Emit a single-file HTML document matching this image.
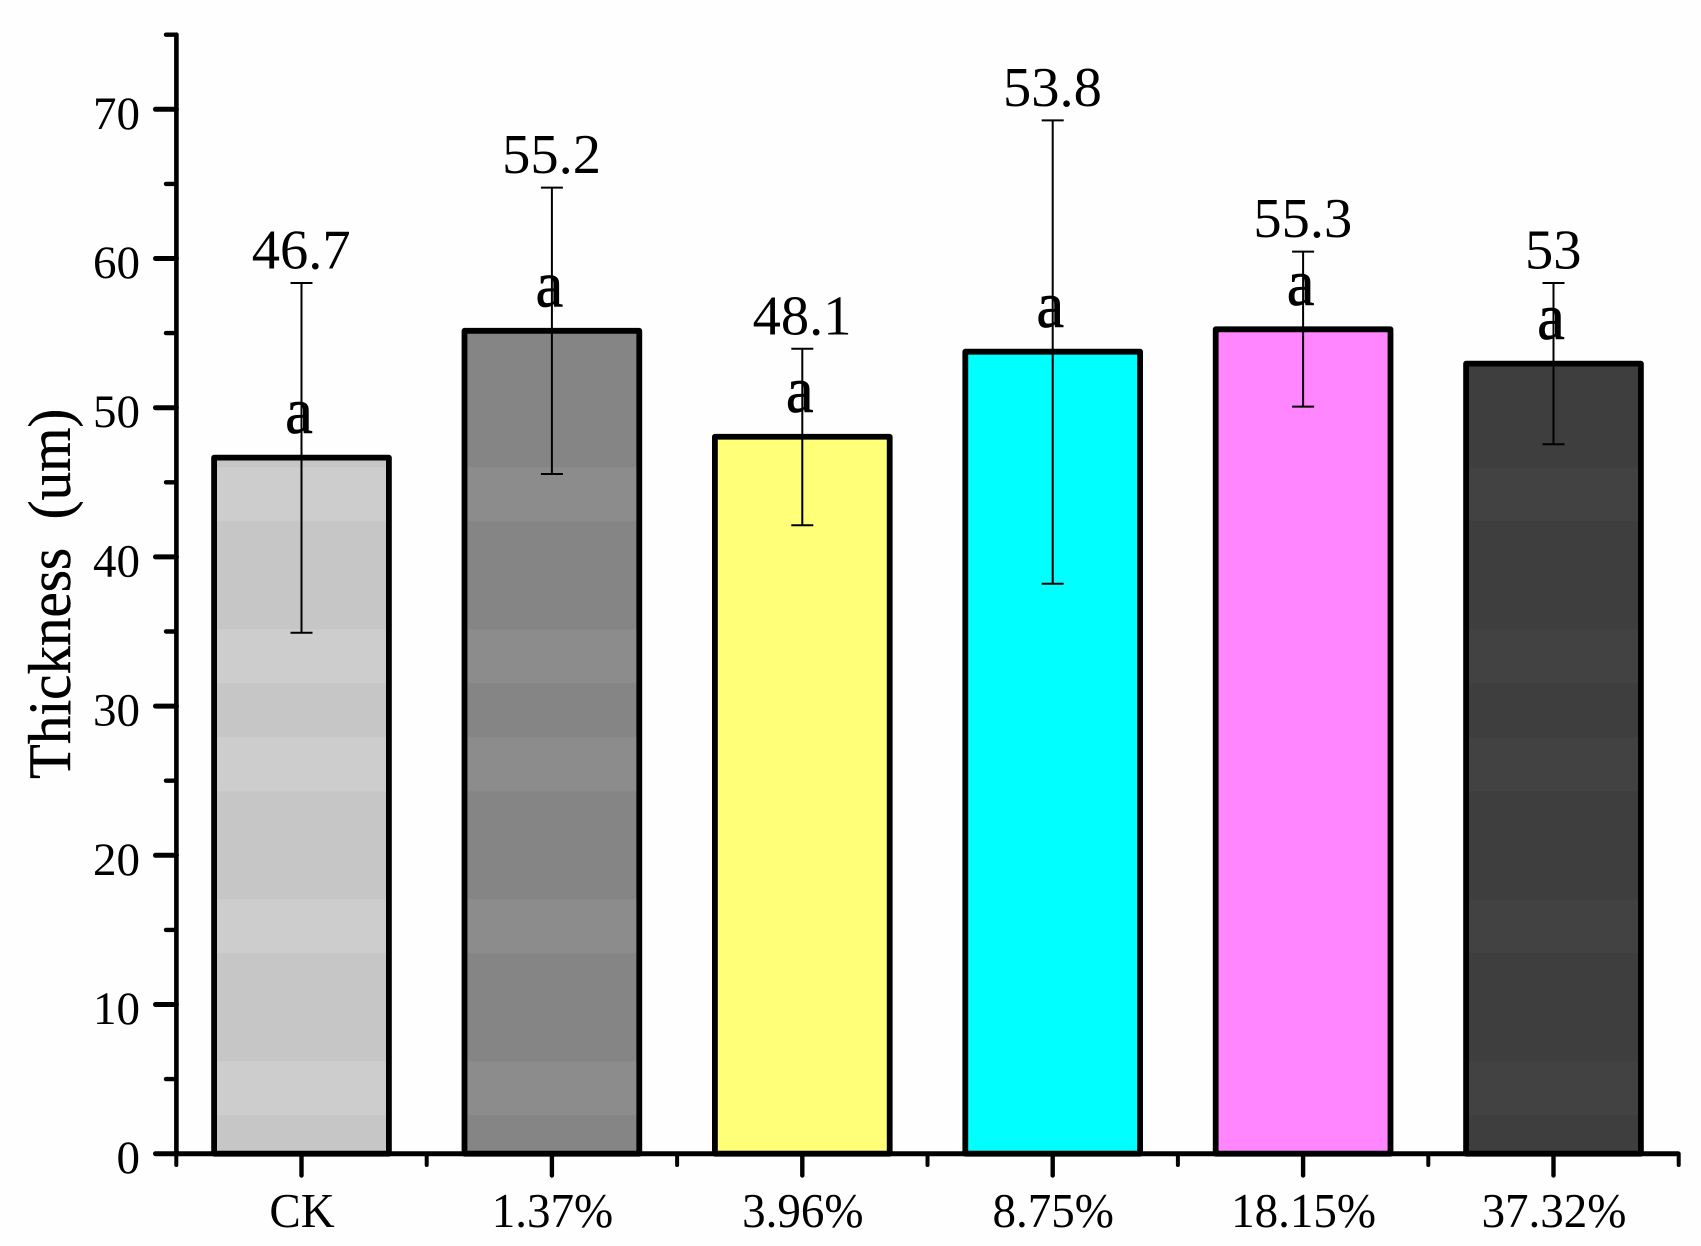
<!DOCTYPE html>
<html lang="en">
<head>
<meta charset="utf-8">
<title>Thickness bar chart</title>
<style>
html,body{margin:0;padding:0;background:#fff;}
svg{display:block;}
text{font-family:"Liberation Serif","Times New Roman",serif;fill:#000;}
</style>
</head>
<body>
<svg id="chart" xmlns="http://www.w3.org/2000/svg" width="1701" height="1246" viewBox="0 0 1701 1246">
  <rect x="0" y="0" width="1701" height="1246" fill="#fefefe"/>
  <g id="bars"></g>
  <g id="axes"></g>
  <g id="errors"></g>
  <g id="labels"></g>
  <text transform="translate(70,779) rotate(-90) scale(1,1.05)" font-size="57" stroke="#000" stroke-width="0.4" xml:space="preserve" style="white-space:pre">Thickness  (um)</text>
</svg>
<script>
const categories = ["CK", "1.37%", "3.96%", "8.75%", "18.15%", "37.32%"];
const means = [46.7, 55.2, 48.1, 53.8, 55.3, 53];
const errorTop = [58.36, 64.75, 53.95, 69.26, 60.46, 58.36];
const errorBottom = [34.92, 45.56, 42.12, 38.2, 50.07, 47.55];
const significance = ["a", "a", "a", "a", "a", "a"];
const yMajorTicks = [0, 10, 20, 30, 40, 50, 60, 70];
const yMinorTicks = [5, 15, 25, 35, 45, 55, 65, 75];

const lightFills = ["#cdcdcd", "#8c8c8c", "#ffff78", "#00ffff", "#ff86ff", "#424242"];
const darkFills = ["#c6c6c6", "#858585", "#ffff78", "#00ffff", "#ff86ff", "#3e3e3e"];
const bandPattern = "LDDLDLDDLDDLD";

const NS = "http://www.w3.org/2000/svg";
const originX = 176.4, axisEndX = 1678, originY = 1153.7, unitY = 14.92;
const firstX = 301.5, stepX = 250.4, barW = 174.8;
const bandStart = 467.3, bandStep = 54;

function x(i) { return firstX + stepX * i; }
function y(v) { return originY - v * unitY; }

function make(tag, parent, attrs, txt) {
  const el = document.createElementNS(NS, tag);
  for (const k in attrs) el.setAttribute(k, attrs[k]);
  if (txt !== undefined) el.textContent = txt;
  parent.appendChild(el);
  return el;
}

const barsG = document.getElementById("bars");
const axesG = document.getElementById("axes");
const errorsG = document.getElementById("errors");
const labelsG = document.getElementById("labels");

categories.forEach(function (cat, i) {
  const top = y(means[i]) + 0.7;
  const left = x(i) - barW / 2;
  const base = make("rect", barsG, { x: left, y: top, width: barW, height: originY - top, fill: darkFills[i] });
  
  
  for (let b = 0; b < bandPattern.length; b++) {
    if (bandPattern[b] !== "L") continue;
    const y0 = Math.max(bandStart + b * bandStep, top);
    const y1 = Math.min(bandStart + (b + 1) * bandStep, originY);
    if (y1 <= y0) continue;
    const band = make("rect", barsG, { x: left, y: y0, width: barW, height: y1 - y0, fill: lightFills[i] });
    
    
  }
  const outline = make("rect", barsG, { x: left, y: top, width: barW, height: originY - top, fill: "none", stroke: "#000", "stroke-width": 5.8, "stroke-linejoin": "round" });
  
  

  const stem = make("line", errorsG, { x1: x(i), x2: x(i), y1: y(errorTop[i]), y2: y(errorBottom[i]), stroke: "#000", "stroke-width": 2 });
  
  
  [errorTop[i], errorBottom[i]].forEach(function (v) {
    const cap = make("line", errorsG, { x1: x(i) - 11, x2: x(i) + 11, y1: y(v), y2: y(v), stroke: "#000", "stroke-width": 2 });
    
    
  });

  const valueLabel = make("text", labelsG, { x: x(i) - 0.3, y: y(errorTop[i]) - 14.5, "font-size": 56.5, "text-anchor": "middle" }, String(means[i]));
  
  

  const sig = make("text", labelsG, { transform: "translate(" + (x(i) - 2.5) + "," + (top - 24.5) + ") scale(1,1.06)", "font-size": 62, "text-anchor": "middle", stroke: "#000", "stroke-width": 0.7 }, significance[i]);
  
  

  const catLabel = make("text", axesG, { transform: "translate(" + (x(i) + 0.5) + ",1227) scale(1,1.03)", "font-size": 47, "text-anchor": "middle" }, cat);
  
  

  const tick = make("line", axesG, { x1: x(i), x2: x(i), y1: originY, y2: 1175.5, stroke: "#000", "stroke-width": 4.4, "stroke-linecap": "round" });
  
  
});

for (let i = 0; i <= categories.length; i++) {
  const mx = x(i) - stepX / 2;
  const minor = make("line", axesG, { x1: mx, x2: mx, y1: originY, y2: 1165, stroke: "#000", "stroke-width": 4, "stroke-linecap": "round" });
  
  
}

yMajorTicks.forEach(function (v) {
  const tick = make("line", axesG, { x1: 155.5, x2: originX, y1: y(v), y2: y(v), stroke: "#000", "stroke-width": 5, "stroke-linecap": "round" });
  
  
  const lab = make("text", axesG, { x: 140, y: y(v) + 19.5, "font-size": 47, "text-anchor": "end" }, String(v));
  
  
});

yMinorTicks.forEach(function (v) {
  const tick = make("line", axesG, { x1: 166, x2: originX, y1: y(v), y2: y(v), stroke: "#000", "stroke-width": 4.4, "stroke-linecap": "round" });
  
  
});

const yLine = make("line", axesG, { x1: originX, x2: originX, y1: y(75), y2: originY, stroke: "#000", "stroke-width": 4.6, "stroke-linecap": "round" });


const xLine = make("line", axesG, { x1: originX, x2: axisEndX, y1: originY, y2: originY, stroke: "#000", "stroke-width": 5, "stroke-linecap": "round" });


</script>
</body>
</html>
